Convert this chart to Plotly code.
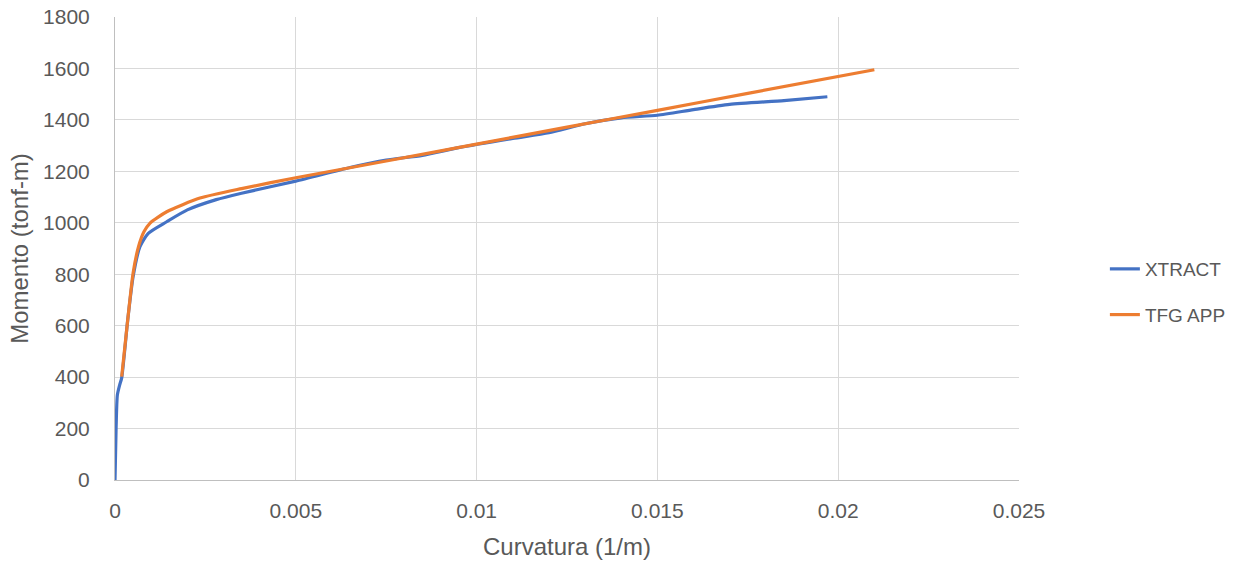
import plotly.graph_objects as go

xtract_x = [0, 0.00003, 0.000065, 0.00013, 0.000185, 0.00035, 0.0005, 0.00069, 0.00092, 0.00143,
            0.0020, 0.0028, 0.0035, 0.005, 0.0065, 0.0075, 0.0085, 0.0095, 0.011, 0.012,
            0.013, 0.014, 0.015, 0.016, 0.017, 0.0185, 0.0197]
xtract_y = [0, 200, 330, 370, 397, 620, 790, 907, 959, 1004,
            1050, 1090, 1115, 1162, 1215, 1244, 1262, 1292, 1328, 1350,
            1385, 1408, 1418, 1440, 1460, 1475, 1490]

tfg_x = [0.000185, 0.00035, 0.0005, 0.00065, 0.00080, 0.00097, 0.00143, 0.00235, 0.0035,
         0.005, 0.0075, 0.01, 0.0125, 0.015, 0.0175, 0.021]
tfg_y = [402, 620, 804, 907, 965, 999, 1043, 1096, 1133,
         1175, 1240, 1306, 1372, 1437, 1503, 1595]

x_ticks = [0, 0.005, 0.01, 0.015, 0.02, 0.025]
x_tick_labels = ["0", "0.005", "0.01", "0.015", "0.02", "0.025"]
y_ticks = [0, 200, 400, 600, 800, 1000, 1200, 1400, 1600, 1800]

FONT = "Liberation Sans, Arial, sans-serif"
TXT = "#595959"

fig = go.Figure()
fig.add_trace(go.Scatter(x=xtract_x, y=xtract_y, mode="lines", name="XTRACT", legendgroup="a",
                         line=dict(color="#4472C4", width=3.2, shape="spline", smoothing=0.6)))
fig.add_trace(go.Scatter(x=tfg_x, y=tfg_y, mode="lines", name="TFG APP", legendgroup="b",
                         line=dict(color="#ED7D31", width=3.2, shape="spline", smoothing=0.6)))

fig.update_layout(
    width=1241, height=571,
    margin=dict(l=115, r=222, t=17, b=91, autoexpand=False),
    paper_bgcolor="white", plot_bgcolor="white",
    font=dict(family=FONT, color=TXT, size=19),
    showlegend=True,
    legend=dict(x=1.095, y=0.406, xanchor="left", yanchor="middle",
                font=dict(size=19, color=TXT), tracegroupgap=18,
                bgcolor="rgba(0,0,0,0)"),
    xaxis=dict(range=[0, 0.025], tickvals=x_ticks, ticktext=x_tick_labels,
               showgrid=True, gridcolor="#d9d9d9", gridwidth=1, automargin=False,
               zeroline=False, showline=True, linecolor="#bfbfbf", linewidth=1,
               ticks="", ticklabelstandoff=12, ticklabeloverflow="allow",
               tickfont=dict(size=21, color=TXT),
               title=dict(text="Curvatura (1/m)", font=dict(size=24, color=TXT), standoff=16)),
    yaxis=dict(range=[0, 1800], tickvals=y_ticks,
               showgrid=True, gridcolor="#d9d9d9", gridwidth=1, automargin=False,
               zeroline=False, showline=True, linecolor="#bfbfbf", linewidth=1,
               ticks="", ticklabelstandoff=20, ticklabeloverflow="allow",
               tickfont=dict(size=21, color=TXT),
               title=dict(text="Momento (tonf-m)", font=dict(size=24, color=TXT), standoff=7)),
)

fig.write_html("out.html", config={"displayModeBar": False},
               post_script="document.body.style.margin='0';")
